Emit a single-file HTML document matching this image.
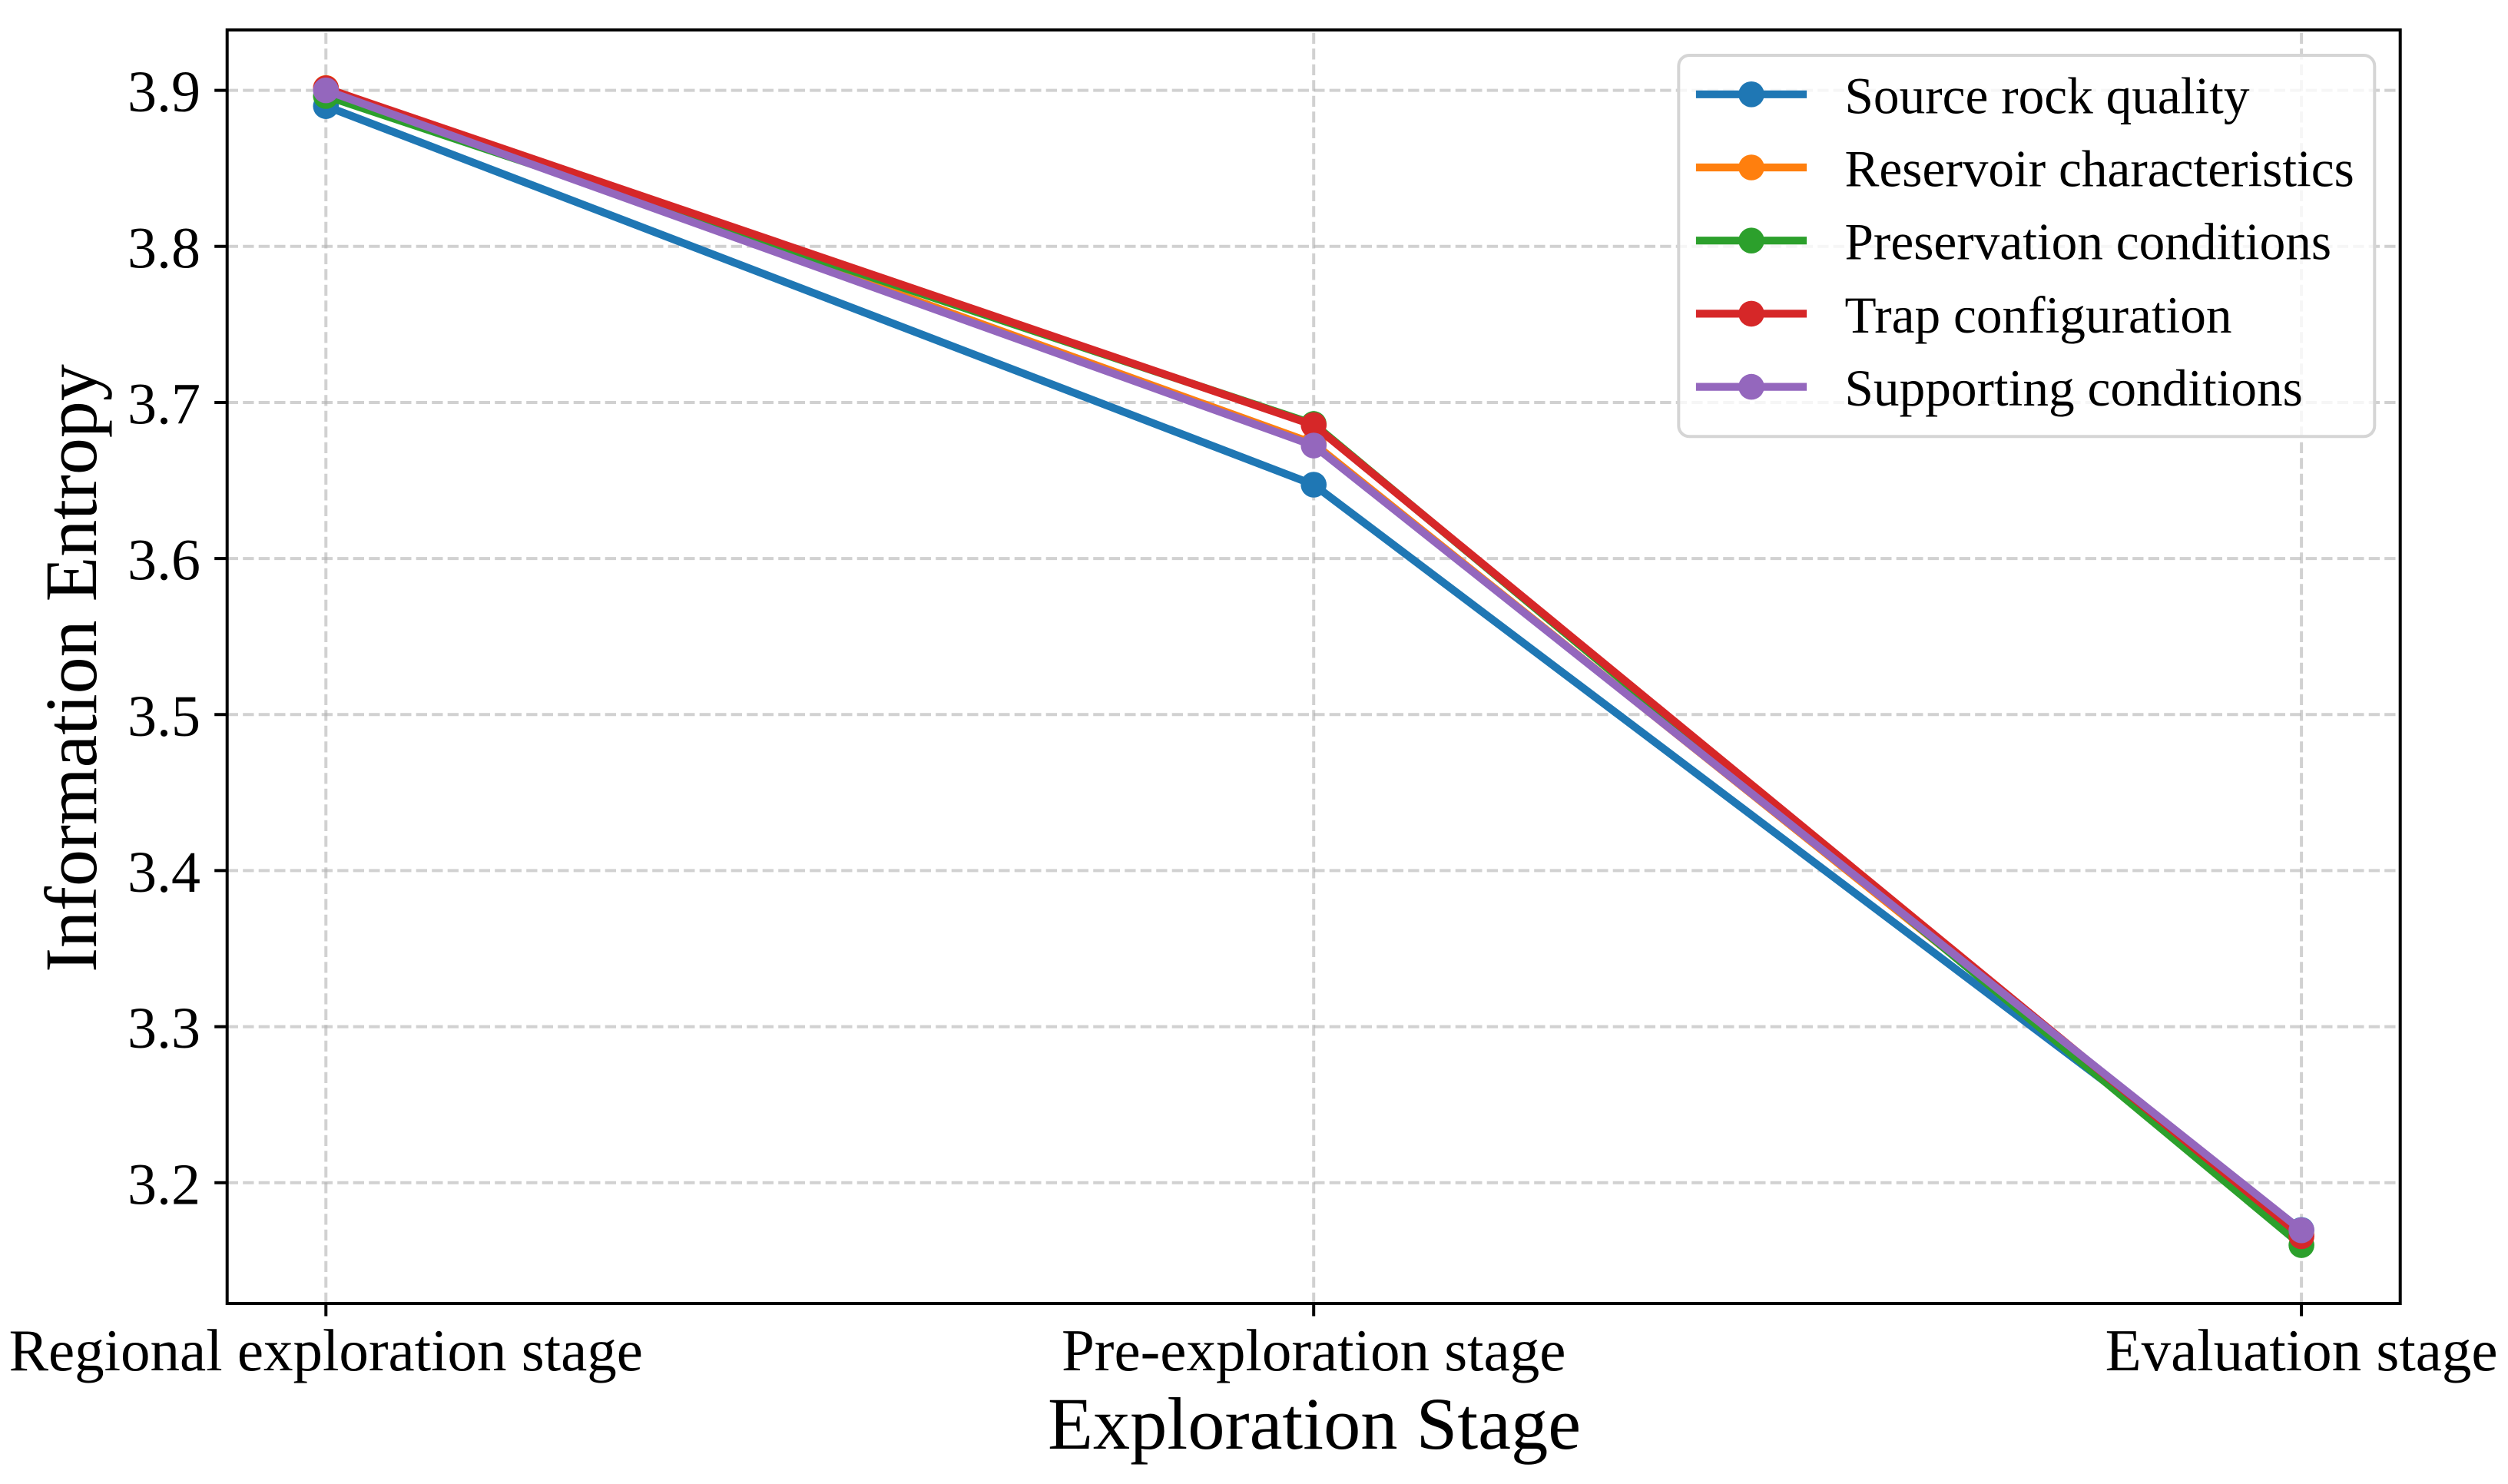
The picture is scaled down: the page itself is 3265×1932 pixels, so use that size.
<!DOCTYPE html>
<html lang="en">
<head>
<meta charset="utf-8">
<title>Information Entropy by Exploration Stage</title>
<style>
html,body{margin:0;padding:0;background:#fff;}
svg{display:block;font-family:"Liberation Serif","Times New Roman",serif;}
</style>
</head>
<body>
<svg id="chart" xmlns="http://www.w3.org/2000/svg" width="3265" height="1932" viewBox="0 0 3265 1932"></svg>
<script>
const categories = ['Regional exploration stage', 'Pre-exploration stage', 'Evaluation stage'];
const yTickLabels = ['3.2', '3.3', '3.4', '3.5', '3.6', '3.7', '3.8', '3.9'];
const seriesNames = ['Source rock quality', 'Reservoir characteristics', 'Preservation conditions', 'Trap configuration', 'Supporting conditions'];
const sourceRockQuality = [3.8899, 3.6473, 3.1697];
const reservoirCharacteristics = [3.9015, 3.6737, 3.1670];
const preservationConditions = [3.8964, 3.6862, 3.1600];
const trapConfiguration = [3.9013, 3.6855, 3.1657];
const supportingConditions = [3.9000, 3.6724, 3.1695];
const seriesValues = [sourceRockQuality, reservoirCharacteristics, preservationConditions, trapConfiguration, supportingConditions];
const seriesColors = ['#1f77b4', '#ff7f0e', '#2ca02c', '#d62728', '#9467bd'];

const NS = 'http://www.w3.org/2000/svg';
const svg = document.getElementById('chart');
const plot = {left: 295.7, right: 3124.7, top: 39, bottom: 1697};
const xDomain = [-0.1, 2.1];
const yDomain = [3.1226, 3.9387];
const xScale = i => plot.left + (i - xDomain[0]) / (xDomain[1] - xDomain[0]) * (plot.right - plot.left);
const yScale = v => plot.bottom - (v - yDomain[0]) / (yDomain[1] - yDomain[0]) * (plot.bottom - plot.top);

function make(tag, attrs, parent, text) {
  const el = document.createElementNS(NS, tag);
  for (const k in attrs) el.setAttribute(k, attrs[k]);
  if (text !== undefined) el.textContent = text;
  (parent || svg).appendChild(el);
  return el;
}
function slug(s) { return s.toLowerCase().replace(/[^a-z0-9]+/g, '-'); }

const gridDash = '14.3 6.2';
const gridGroup = make('g', {});


yTickLabels.forEach(label => {
  const y = yScale(parseFloat(label));
  const line = make('line', {x1: plot.left, x2: plot.right, y1: y, y2: y, stroke: '#b0b0b0', 'stroke-opacity': 0.58, 'stroke-width': 4, 'stroke-dasharray': gridDash}, gridGroup);
  
  
});
categories.forEach((c, i) => {
  const x = xScale(i);
  const line = make('line', {x1: x, x2: x, y1: plot.bottom, y2: plot.top, stroke: '#b0b0b0', 'stroke-opacity': 0.58, 'stroke-width': 4, 'stroke-dasharray': gridDash}, gridGroup);
  
  
});

seriesNames.forEach((name, s) => {
  const g = make('g', {});
  
  
  const pts = seriesValues[s].map((v, i) => xScale(i).toFixed(2) + ',' + yScale(v).toFixed(2)).join(' ');
  const line = make('polyline', {points: pts, fill: 'none', stroke: seriesColors[s], 'stroke-width': 10.2, 'stroke-linejoin': 'round', 'stroke-linecap': 'square'}, g);
  
  
  seriesValues[s].forEach((v, i) => {
    const pt = make('circle', {cx: xScale(i), cy: yScale(v), r: 16.8, fill: seriesColors[s]}, g);
    
    
  });
});

const frame = make('rect', {x: plot.left, y: plot.top, width: plot.right - plot.left, height: plot.bottom - plot.top, fill: 'none', stroke: '#000', 'stroke-width': 4});



yTickLabels.forEach(label => {
  const y = yScale(parseFloat(label));
  const tick = make('line', {x1: plot.left - 16.5, x2: plot.left, y1: y, y2: y, stroke: '#000', 'stroke-width': 4});
  
  
  const t = make('text', {x: 261, y: y + 27.5, 'text-anchor': 'end', 'font-size': 76, fill: '#000'}, svg, label);
  
  
});
categories.forEach((c, i) => {
  const x = xScale(i);
  const tick = make('line', {x1: x, x2: x, y1: plot.bottom, y2: plot.bottom + 16.5, stroke: '#000', 'stroke-width': 4});
  
  
  const t = make('text', {x: x, y: 1784, 'text-anchor': 'middle', 'font-size': 77, fill: '#000'}, svg, c);
  
  
});

const xTitle = make('text', {x: 1711, y: 1886, 'text-anchor': 'middle', 'font-size': 96.5, fill: '#000'}, svg, 'Exploration Stage');


const yTitle = make('text', {transform: 'translate(125 870) rotate(-90)', 'text-anchor': 'middle', 'font-size': 96, fill: '#000'}, svg, 'Information Entropy');



const legend = make('g', {});


const legendBack = make('rect', {x: 2185.3, y: 72, width: 906, height: 496.3, rx: 14, ry: 14, fill: '#fff', 'fill-opacity': 0.8}, legend);


const legendBox = make('rect', {x: 2185.3, y: 72, width: 906, height: 496.3, rx: 14, ry: 14, fill: 'none', stroke: '#d5d5d5', 'stroke-width': 4}, legend);


seriesNames.forEach((name, s) => {
  const rowY = 122.8 + s * 95.2;
  const entry = make('g', {}, legend);
  
  
  const swatch = make('line', {x1: 2213, x2: 2347, y1: rowY, y2: rowY, stroke: seriesColors[s], 'stroke-width': 10.2, 'stroke-linecap': 'square'}, entry);
  
  
  const dot = make('circle', {cx: 2280, cy: rowY, r: 16.8, fill: seriesColors[s]}, entry);
  
  
  const label = make('text', {x: 2401.5, y: rowY + 24.5, 'font-size': 67.3, fill: '#000'}, entry, name);
  
  
});
</script>
</body>
</html>
